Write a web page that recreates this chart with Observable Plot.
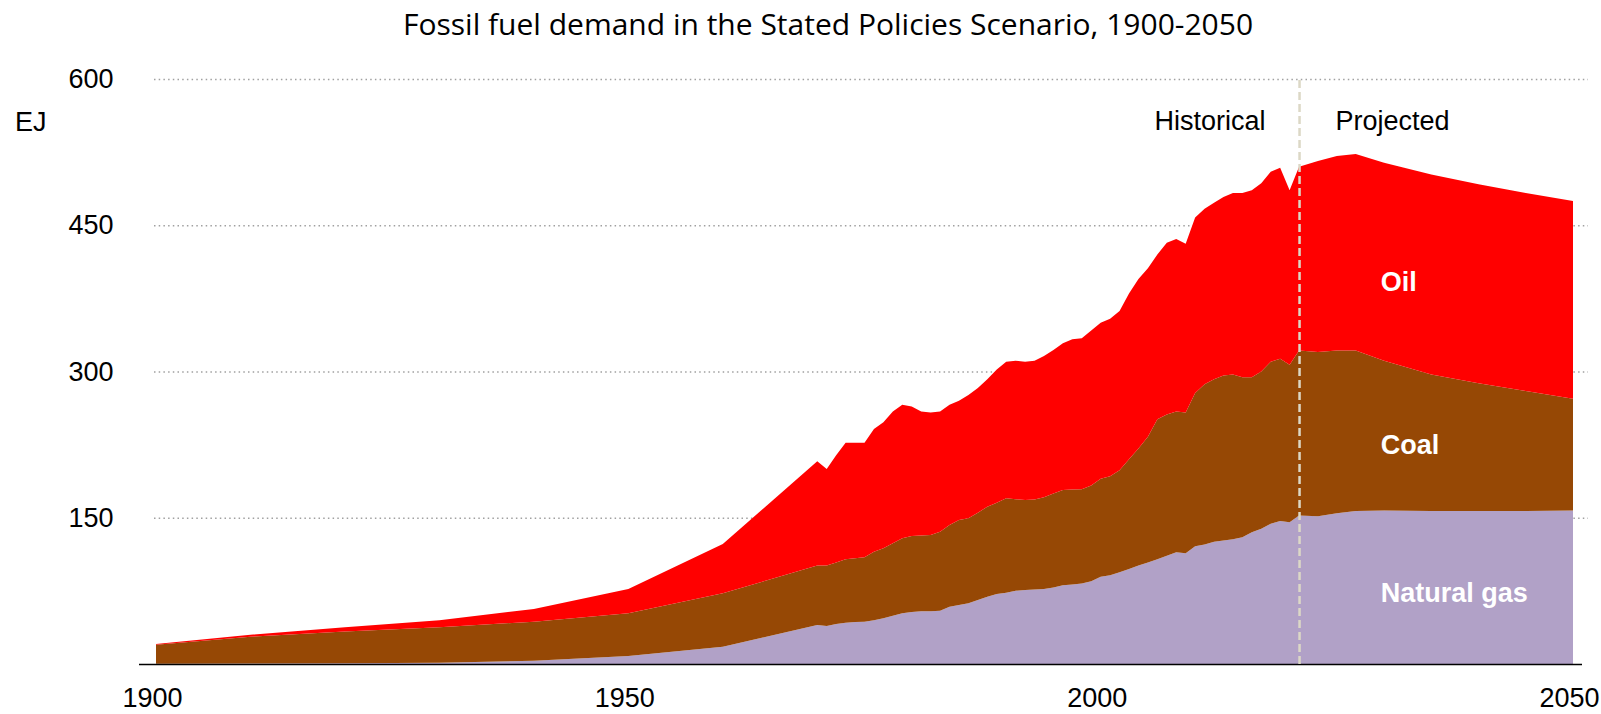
<!DOCTYPE html>
<html>
<head>
<meta charset="utf-8">
<script src="https://cdn.jsdelivr.net/npm/d3@7"></script>
<script src="https://cdn.jsdelivr.net/npm/@observablehq/plot@0.6"></script>
<style>
  html, body { margin: 0; padding: 0; background: #fff; }
  #wrap { position: relative; width: 1601px; height: 714px; overflow: hidden; }
  #title { position: absolute; left: 828px; top: 9px; transform: translateX(-50%); white-space: nowrap;
           font-family: "Open Sans", sans-serif; font-size: 30px; line-height: 30px; color: #000; }
  #unit { position: absolute; left: 15px; top: 109px; font-family: "Liberation Sans", Arial, sans-serif;
          font-size: 27px; line-height: 27px; color: #000; }
  #chart { position: absolute; left: 0; top: 0; }
</style>
</head>
<body>
<div id="wrap">
  <div id="chart"></div>
  <div id="title">Fossil fuel demand in the Stated Policies Scenario, 1900-2050</div>
  <div id="unit">EJ</div>
</div>
<script>
// ---- Data (EJ) ----
const years = [1900,1910,1920,1930,1940,1950,1960,1970,
  1971,1972,1973,1974,1975,1976,1977,1978,1979,1980,
  1981,1982,1983,1984,1985,1986,1987,1988,1989,1990,
  1991,1992,1993,1994,1995,1996,1997,1998,1999,2000,
  2001,2002,2003,2004,2005,2006,2007,2008,2009,2010,
  2011,2012,2013,2014,2015,2016,2017,2018,2019,2020,
  2021,2023,2025,2027,2030,2035,2040,2045,2050];

const naturalGas = [0.2,0.5,0.8,1.4,3.4,8.3,17.8,40.0,
  39.0,41.0,42.4,43.0,43.4,45.0,46.8,49.5,52.0,53.3,
  54.0,54.2,54.7,58.8,60.5,62.2,65.6,69.0,71.8,73.1,
  75.2,75.8,76.5,76.9,78.5,80.8,81.5,82.5,85.0,89.6,
  91.0,94.0,97.5,101.0,104.0,107.5,111.0,114.6,113.5,120.8,
  122.5,125.5,126.6,128.0,130.0,135.2,138.7,143.8,146.6,145.5,
  152.4,151.5,154.5,157.0,157.5,157.0,157.0,157.0,157.5];

const coal = [19.6,27.5,32.5,36.2,40.0,43.7,54.7,60.9,
  61.9,63.0,65.0,65.5,66.0,70.2,71.8,74.3,76.9,78.0,
  77.8,78.1,81.0,83.8,87.2,87.2,89.6,92.3,93.7,96.8,
  93.7,92.4,92.3,94.1,96.5,97.7,97.5,96.7,98.0,100.4,
  101.5,104.7,112.5,120.0,129.0,143.5,145.0,144.4,144.5,157.2,
  164.5,166.5,169.4,169.0,164.0,158.8,161.3,166.2,166.4,161.5,
  169.2,168.5,167.1,164.6,153.5,140.0,131.0,123.0,114.5];

const oil = [0.7,2.0,4.3,7.4,13.0,25.0,50.5,107.1,
  99.1,110.0,119.6,118.5,117.6,125.8,129.4,135.2,137.1,132.7,
  127.2,125.7,123.3,123.4,122.3,126.6,127.8,130.7,136.5,140.1,
  142.1,141.8,142.2,145.0,147.0,150.5,154.0,154.8,159.0,160.0,
  161.5,163.3,170.0,174.0,173.0,169.0,176.0,177.0,173.0,180.0,
  180.0,181.0,183.0,186.0,189.0,192.0,193.0,195.0,196.0,179.0,
  188.4,196.0,199.4,201.4,203.0,205.0,204.0,203.0,203.0];

const fuels = ["Natural gas", "Coal", "Oil"];
const fuelColors = ["#b1a1c7", "#964805", "#ff0000"];
const xTicks = [1900, 1950, 2000, 2050];
const yTicks = [150, 300, 450, 600];
const splitYear = 2021;
const periodLabels = ["Historical", "Projected"];

// ---- Build tidy table ----
const series = [naturalGas, coal, oil];
const rows = [];
fuels.forEach((f, k) => years.forEach((yr, i) => rows.push({year: yr, fuel: f, value: series[k][i]})));

// label anchors (data units)
const fuelLabels = [
  {name: "Oil", year: 2029.6, value: 392},
  {name: "Coal", year: 2029.6, value: 225},
  {name: "Natural gas", year: 2029.6, value: 73}
];

const font = "'Liberation Sans', Arial, sans-serif";

const chart = Plot.plot({
  width: 1601,
  height: 714,
  marginLeft: 154,
  marginRight: 13,
  marginTop: 79,
  marginBottom: 50,
  x: {domain: [1900, 2050], range: [156, 1573]},
  y: {domain: [0, 600], range: [664, 79]},
  color: {domain: fuels, range: fuelColors},
  style: {fontFamily: font, fontSize: "27px", color: "#000", background: "transparent", overflow: "visible"},
  marks: [
    Plot.ruleY(yTicks, {stroke: "#a0a0a0", strokeWidth: 1.6, strokeDasharray: "1.5,3.2"}),
    Plot.areaY(rows, {x: "year", y: "value", fill: "fuel", order: fuels}),
    Plot.ruleY([0], {stroke: "#000", strokeWidth: 1.5, insetLeft: -15, insetRight: 6}),
    Plot.ruleX([splitYear], {y1: 0, y2: 600, stroke: "#dcd8c6", strokeWidth: 2.5, strokeDasharray: "8,4"}),
    Plot.axisX({ticks: xTicks, tickFormat: d3.format("d"), tickSize: 0, tickPadding: 23, dx: -4,
                fontSize: 27, label: null}),
    Plot.axisY({ticks: yTicks, tickSize: 0, tickPadding: 41, fontSize: 27, label: null}),
    Plot.text([periodLabels[0]], {x: splitYear, y: 557, dx: -34, textAnchor: "end", fontSize: 27, fill: "#000"}),
    Plot.text([periodLabels[1]], {x: splitYear, y: 557, dx: 36, textAnchor: "start", fontSize: 27, fill: "#000"}),
    Plot.text(fuelLabels, {x: "year", y: "value", text: "name", textAnchor: "start", fontSize: 27,
                fontWeight: "bold", fill: "#fff"})
  ]
});
document.getElementById("chart").appendChild(chart);
</script>
</body>
</html>
